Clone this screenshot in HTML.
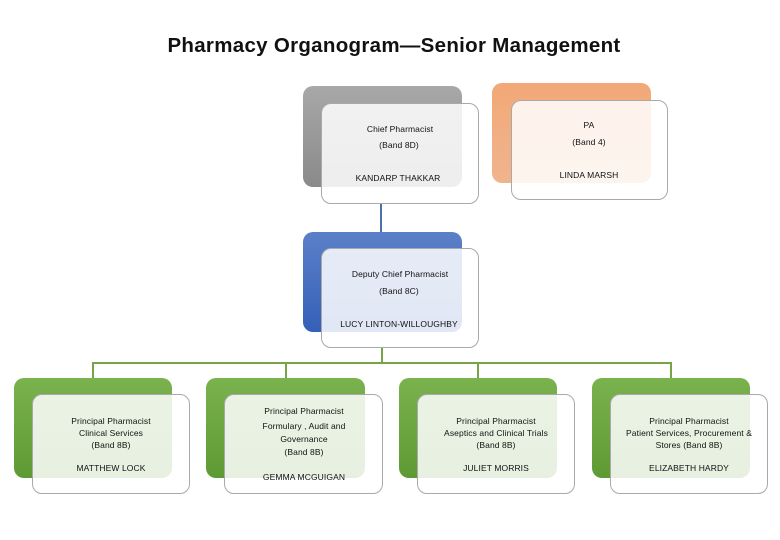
<!DOCTYPE html>
<html><head><meta charset="utf-8"><style>
body{margin:0;width:780px;height:540px;background:#fff;position:relative;overflow:hidden;font-family:"Liberation Sans",sans-serif;}
.b{position:absolute;border-radius:10px;}
.f{position:absolute;border-radius:10px;border:1px solid #a9a9a9;background:rgba(255,255,255,0.85);box-sizing:border-box;}
.t{position:absolute;font-size:8.5px;color:#111;white-space:nowrap;transform:translateX(-50%);letter-spacing:0.1px;}
.l{position:absolute;}
h1{position:absolute;left:0;width:780px;top:34px;margin:0;text-align:center;font-size:20.5px;font-weight:bold;color:#111;letter-spacing:0.3px;padding-left:4px;}
</style></head><body>
<h1>Pharmacy Organogram—Senior Management</h1>

<div class="l" style="left:380px;top:203px;width:2px;height:46px;background:#4a72a8"></div>
<div class="l" style="left:381px;top:347px;width:2px;height:16px;background:#77a446"></div>
<div class="l" style="left:92px;top:362px;width:580px;height:2px;background:#77a446"></div>
<div class="l" style="left:92px;top:362px;width:2px;height:17px;background:#77a446"></div>
<div class="l" style="left:285px;top:362px;width:2px;height:17px;background:#77a446"></div>
<div class="l" style="left:477px;top:362px;width:2px;height:17px;background:#77a446"></div>
<div class="l" style="left:670px;top:362px;width:2px;height:17px;background:#77a446"></div>

<div class="b" style="left:303px;top:86px;width:159px;height:101px;background:linear-gradient(#a8a8a8,#8a8a8a);"></div>
<div class="f" style="left:321px;top:103px;width:158px;height:101px;"></div>
<div class="t" style="left:400px;top:124px">Chief Pharmacist</div>
<div class="t" style="left:399px;top:140px">(Band 8D)</div>
<div class="t" style="left:398px;top:173px">KANDARP THAKKAR</div>

<div class="b" style="left:492px;top:83px;width:159px;height:100px;background:linear-gradient(#f2a878,#f0b48c);"></div>
<div class="f" style="left:511px;top:100px;width:157px;height:100px;"></div>
<div class="t" style="left:589px;top:120px">PA</div>
<div class="t" style="left:589px;top:137px">(Band 4)</div>
<div class="t" style="left:589px;top:170px">LINDA MARSH</div>

<div class="b" style="left:303px;top:232px;width:159px;height:100px;background:linear-gradient(#5b80c8,#3560b8);"></div>
<div class="f" style="left:321px;top:248px;width:158px;height:100px;"></div>
<div class="t" style="left:400px;top:269px">Deputy Chief Pharmacist</div>
<div class="t" style="left:399px;top:286px">(Band 8C)</div>
<div class="t" style="left:399px;top:319px">LUCY LINTON-WILLOUGHBY</div>

<div class="b" style="left:14px;top:378px;width:158px;height:100px;background:linear-gradient(#7ab24e,#5e9a34);"></div>
<div class="f" style="left:32px;top:394px;width:158px;height:100px;"></div>
<div class="t" style="left:111px;top:416px">Principal Pharmacist</div>
<div class="t" style="left:111px;top:428px">Clinical Services</div>
<div class="t" style="left:111px;top:440px">(Band 8B)</div>
<div class="t" style="left:111px;top:463px">MATTHEW LOCK</div>

<div class="b" style="left:206px;top:378px;width:159px;height:100px;background:linear-gradient(#7ab24e,#5e9a34);"></div>
<div class="f" style="left:224px;top:394px;width:159px;height:100px;"></div>
<div class="t" style="left:304px;top:406px">Principal Pharmacist</div>
<div class="t" style="left:304px;top:421px">Formulary , Audit and</div>
<div class="t" style="left:304px;top:434px">Governance</div>
<div class="t" style="left:304px;top:447px">(Band 8B)</div>
<div class="t" style="left:304px;top:472px">GEMMA MCGUIGAN</div>

<div class="b" style="left:399px;top:378px;width:158px;height:100px;background:linear-gradient(#7ab24e,#5e9a34);"></div>
<div class="f" style="left:417px;top:394px;width:158px;height:100px;"></div>
<div class="t" style="left:496px;top:416px">Principal Pharmacist</div>
<div class="t" style="left:496px;top:428px">Aseptics and Clinical Trials</div>
<div class="t" style="left:496px;top:440px">(Band 8B)</div>
<div class="t" style="left:496px;top:463px">JULIET MORRIS</div>

<div class="b" style="left:592px;top:378px;width:158px;height:100px;background:linear-gradient(#7ab24e,#5e9a34);"></div>
<div class="f" style="left:610px;top:394px;width:158px;height:100px;"></div>
<div class="t" style="left:689px;top:416px">Principal Pharmacist</div>
<div class="t" style="left:689px;top:428px">Patient Services, Procurement &amp;</div>
<div class="t" style="left:689px;top:440px">Stores (Band 8B)</div>
<div class="t" style="left:689px;top:463px">ELIZABETH HARDY</div>
</body></html>
